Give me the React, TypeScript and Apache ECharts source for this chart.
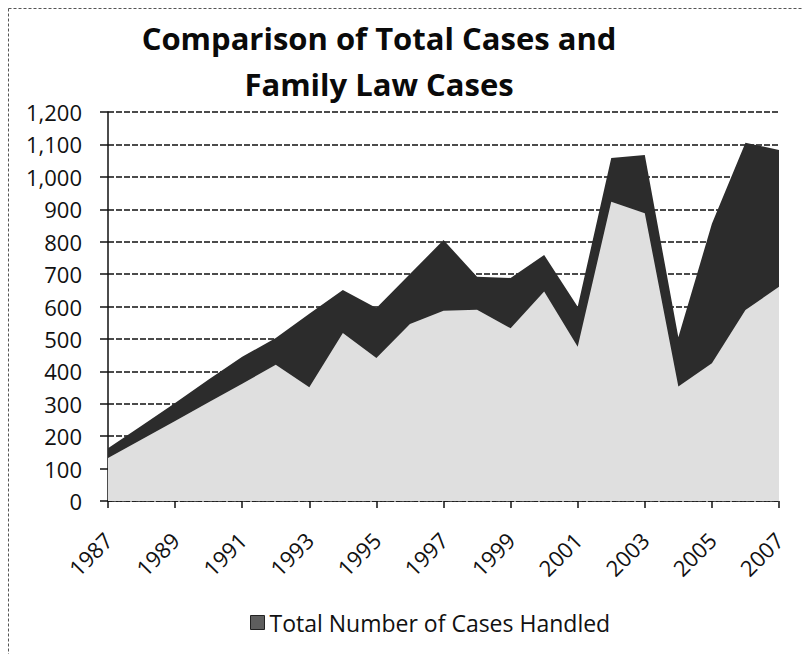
import React, { useEffect, useRef } from "react";
import * as echarts from "echarts";

const years = [
  "1987", "1988", "1989", "1990", "1991", "1992", "1993", "1994", "1995", "1996", "1997",
  "1998", "1999", "2000", "2001", "2002", "2003", "2004", "2005", "2006", "2007",
];
const totalCases = [163, 232, 302, 375, 445, 503, 578, 651, 595, 700, 805, 692, 688, 759, 599, 1058, 1067, 505, 855, 1105, 1083];
const familyLawCases = [133, 190, 247, 305, 362, 420, 351, 518, 441, 546, 587, 590, 533, 646, 476, 923, 888, 353, 425, 589, 661];
const yTicks = [0, 1200, 100];
const titleLines = ["Comparison of Total Cases and", "Family Law Cases"];

const FONT = "'Open Sans', Carlito, sans-serif";

export default function App() {
  const ref = useRef<HTMLDivElement>(null);
  useEffect(() => {
    if (!ref.current) return;
    const chart = echarts.init(ref.current, null, { renderer: "svg" });
    chart.setOption({
      animation: false,
      backgroundColor: "#ffffff",
      textStyle: { fontFamily: FONT },
      graphic: [
        {
          type: "line",
          shape: { x1: 0.5, y1: 0.5, x2: 803, y2: 0.5 },
          style: { stroke: "#555", lineWidth: 1, lineDash: [3, 2] },
        },
        {
          type: "line",
          shape: { x1: 0.5, y1: 0.5, x2: 0.5, y2: 646 },
          style: { stroke: "#555", lineWidth: 1, lineDash: [3, 2] },
        },
        {
          type: "text",
          x: 371,
          y: 30,
          style: {
            text: titleLines[0],
            align: "center",
            verticalAlign: "middle",
            font: `bold 31px ${FONT}`,
            fill: "#0a0a0a",
          },
        },
        {
          type: "text",
          x: 371,
          y: 76,
          style: {
            text: titleLines[1],
            align: "center",
            verticalAlign: "middle",
            font: `bold 31px ${FONT}`,
            fill: "#0a0a0a",
          },
        },
      ],
      legend: {
        data: [
          {
            name: "Total Number of Cases Handled",
            icon: "rect",
            itemStyle: { color: "#5e5e5e", borderColor: "#222", borderWidth: 1 },
          },
        ],
        left: 237,
        top: 598,
        itemWidth: 14,
        itemHeight: 14,
        textStyle: { fontSize: 23, color: "#111", fontFamily: FONT },
      },
      grid: { left: 100, top: 104, right: 32, bottom: 153, containLabel: false },
      xAxis: {
        type: "category",
        data: years,
        boundaryGap: false,
        axisLine: { lineStyle: { color: "#111", width: 1.5, type: [4, 2] } },
        axisTick: { show: true, interval: 1, length: 7, lineStyle: { color: "#111", width: 1.5 } },
        axisLabel: {
          interval: 1,
          rotate: 45,
          fontSize: 22,
          color: "#111",
          margin: 35,
          fontFamily: FONT,
        },
        splitLine: { show: false },
      },
      yAxis: {
        type: "value",
        min: yTicks[0],
        max: yTicks[1],
        interval: yTicks[2],
        axisLine: { show: true, lineStyle: { color: "#111", width: 1.5 } },
        axisTick: { show: true, length: 8, lineStyle: { color: "#111", width: 1.5 } },
        axisLabel: {
          fontSize: 22,
          color: "#111",
          margin: 26,
          fontFamily: FONT,
          formatter: (v: number) => v.toLocaleString("en-US"),
        },
        splitLine: { show: true, lineStyle: { color: "#111", width: 1.6, type: [6, 2] } },
      },
      series: [
        {
          name: "Total Number of Cases Handled",
          type: "line",
          data: totalCases,
          symbol: "none",
          lineStyle: { width: 0, color: "#333" },
          itemStyle: { color: "#5e5e5e" },
          areaStyle: { color: "#2c2c2c", opacity: 1 },
          z: 3,
        },
        {
          name: "Family Law Cases",
          type: "line",
          data: familyLawCases,
          symbol: "none",
          lineStyle: { width: 0, color: "#ddd" },
          itemStyle: { color: "#dcdcdc" },
          areaStyle: { color: "#dfdfdf", opacity: 1 },
          z: 4,
        },
      ],
    });
    return () => chart.dispose();
  }, []);
  return <div ref={ref} style={{ width: 803, height: 646 }} />;
}
